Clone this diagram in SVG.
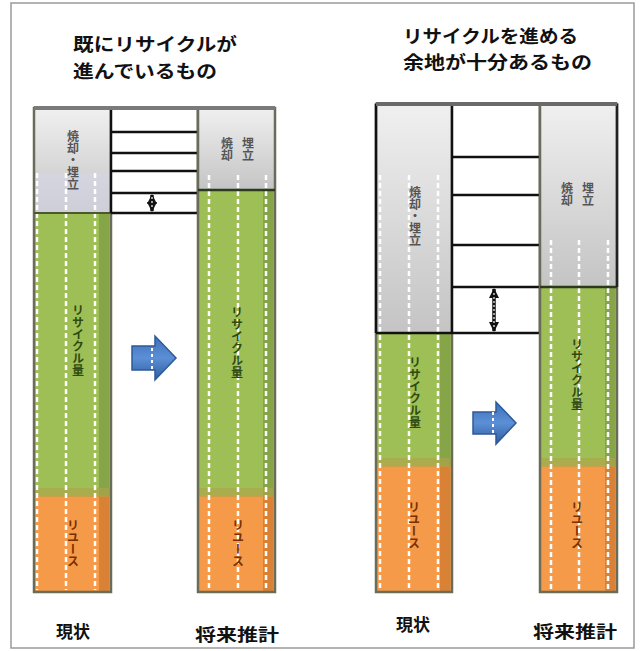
<svg xmlns="http://www.w3.org/2000/svg" width="644" height="651" viewBox="0 0 644 651">
<style>
.ttl{font-family:"Noto Sans CJK JP","Noto Sans",sans-serif;font-weight:700;font-size:18px;fill:#111}
.lbl{font-family:"Noto Sans CJK JP","Noto Sans",sans-serif;font-weight:700;font-size:17px;fill:#111;text-anchor:middle}
.vt{font-family:"Noto Sans CJK JP","Noto Sans",sans-serif;font-weight:700;font-size:12px;writing-mode:vertical-rl;text-anchor:middle}
.vg{fill:#555}
.vgr{fill:#2f4a10}
.vo{fill:#7a3000}
.gray{fill:url(#gGray)}
.green{fill:#9dbf55}
.orange{fill:#f59a48}
.shG{fill:#86a548}
.shO{fill:#d98236}
.edge{fill:none;stroke:#6b6b5a;stroke-width:2.5}
.blk{stroke:#111;stroke-width:2.5;fill:none}
.dash{stroke:#fff;stroke-width:2.5;stroke-dasharray:5 3;fill:none}
.mid{fill:#fff}
.arr{fill:url(#gBlue);stroke:#2e5a98;stroke-width:1.5}
</style>
<defs>
<linearGradient id="gGray" x1="0" y1="0" x2="0" y2="1">
<stop offset="0" stop-color="#f0f0f0"/>
<stop offset="1" stop-color="#c4c4c4"/>
</linearGradient>
<linearGradient id="gBlue" x1="0" y1="0" x2="0" y2="1">
<stop offset="0" stop-color="#3e6fb8"/>
<stop offset="0.5" stop-color="#5b8fd6"/>
<stop offset="1" stop-color="#2f5c9e"/>
</linearGradient>
<marker id="ah" viewBox="0 0 10 10" refX="9" refY="5" markerWidth="3" markerHeight="3" orient="auto-start-reverse">
<path d="M0,0 L10,5 L0,10 z" fill="#111"/>
</marker>
</defs>
<rect x="11" y="3" width="623" height="645" fill="#fff" stroke="#9a9a9a" stroke-width="1.5"/>

<g id="title-left">
<text class="ttl" x="73" y="51" textLength="164" lengthAdjust="spacingAndGlyphs">既にリサイクルが</text>
<text class="ttl" x="73" y="78" textLength="144" lengthAdjust="spacingAndGlyphs">進んでいるもの</text>
</g>
<g id="title-right">
<text class="ttl" x="403" y="43" textLength="175" lengthAdjust="spacingAndGlyphs">リサイクルを進める</text>
<text class="ttl" x="403" y="69" textLength="189" lengthAdjust="spacingAndGlyphs">余地が十分あるもの</text>
</g>

<!-- Left panel -->
<g id="lp-current">
<rect class="gray" x="34" y="108" width="77" height="105"/>
<rect x="34" y="173" width="77" height="40" fill="#d6d6e6" opacity="0.6"/>
<rect class="green" x="34" y="213" width="77" height="282"/>
<rect class="shG" x="99" y="213" width="10" height="282"/>
<rect class="orange" x="34" y="495" width="77" height="97"/>
<rect class="shO" x="99" y="495" width="10" height="97"/>
<rect x="34" y="488" width="77" height="9" fill="#b3a24a" opacity="0.6"/>
<line class="dash" x1="37" y1="173" x2="37" y2="590"/>
<line class="dash" x1="66" y1="173" x2="66" y2="590"/>
<line class="dash" x1="95" y1="173" x2="95" y2="590"/>
<rect class="edge" x="34" y="108" width="77" height="484"/>
<line x1="34" y1="213" x2="111" y2="213" stroke="#4a5a2a" stroke-width="2"/>
<text class="vt vg" x="73" y="160">焼却・埋立</text>
<text class="vt vgr" x="78" y="340">リサイクル量</text>
<text class="vt vo" x="73" y="543">リユース</text>
</g>
<g id="lp-gap">
<rect class="mid" x="111" y="108" width="87" height="105"/>
<line class="blk" x1="111" y1="132" x2="198" y2="132"/>
<line class="blk" x1="111" y1="153" x2="198" y2="153"/>
<line class="blk" x1="111" y1="171" x2="198" y2="171"/>
<line class="blk" x1="111" y1="193" x2="198" y2="193"/>
<line class="blk" x1="111" y1="213" x2="198" y2="213"/>
<line class="blk" x1="111" y1="108" x2="111" y2="213"/>
<line class="blk" x1="198" y1="108" x2="198" y2="213"/>
</g>
<g id="lp-future">
<rect class="gray" x="198" y="108" width="77" height="82"/>
<rect class="green" x="198" y="190" width="77" height="305"/>
<rect class="shG" x="263" y="190" width="10" height="305"/>
<rect class="orange" x="198" y="495" width="77" height="97"/>
<rect class="shO" x="263" y="495" width="10" height="97"/>
<rect x="198" y="488" width="77" height="9" fill="#b3a24a" opacity="0.6"/>
<line class="dash" x1="209" y1="175" x2="209" y2="590"/>
<line class="dash" x1="238" y1="175" x2="238" y2="590"/>
<line class="dash" x1="266" y1="175" x2="266" y2="590"/>
<rect class="edge" x="198" y="108" width="77" height="484"/>
<line x1="198" y1="190" x2="275" y2="190" stroke="#2a3a1a" stroke-width="2.5"/>
<text class="vt vg" x="227" y="149">焼却</text>
<text class="vt vg" x="248" y="149">埋立</text>
<text class="vt vgr" x="237" y="342">リサイクル量</text>
<text class="vt vo" x="238" y="543">リユース</text>
</g>
<line x1="34" y1="108" x2="275" y2="108" stroke="#7a7a7a" stroke-width="4"/>

<!-- Right panel -->
<g id="rp-current">
<rect class="gray" x="376" y="104" width="76" height="229"/>
<rect class="green" x="376" y="333" width="76" height="132"/>
<rect class="shG" x="440" y="333" width="10" height="132"/>
<rect class="orange" x="376" y="465" width="76" height="127"/>
<rect class="shO" x="440" y="465" width="10" height="127"/>
<rect x="376" y="458" width="76" height="9" fill="#b3a24a" opacity="0.6"/>
<line class="dash" x1="380" y1="175" x2="380" y2="590"/>
<line class="dash" x1="409" y1="175" x2="409" y2="590"/>
<line class="dash" x1="438" y1="175" x2="438" y2="590"/>
<rect class="edge" x="376" y="104" width="76" height="488"/>
<text class="vt vg" x="415" y="216">焼却・埋立</text>
<text class="vt vgr" x="415" y="392">リサイクル量</text>
<text class="vt vo" x="414" y="525">リユース</text>
</g>
<g id="rp-gap">
<rect class="mid" x="452" y="104" width="88" height="229"/>
<line class="blk" x1="452" y1="157" x2="540" y2="157"/>
<line class="blk" x1="452" y1="195" x2="540" y2="195"/>
<line class="blk" x1="452" y1="245" x2="540" y2="245"/>
<line class="blk" x1="452" y1="287" x2="540" y2="287"/>
<line class="blk" x1="376" y1="333" x2="540" y2="333"/>
<line class="blk" x1="452" y1="104" x2="452" y2="333"/>
<line class="blk" x1="540" y1="104" x2="540" y2="333"/>
<line class="blk" x1="376" y1="104" x2="376" y2="333"/>
</g>
<g id="rp-future">
<rect class="gray" x="540" y="104" width="77" height="183"/>
<rect class="green" x="540" y="287" width="77" height="178"/>
<rect class="shG" x="605" y="287" width="10" height="178"/>
<rect class="orange" x="540" y="465" width="77" height="127"/>
<rect class="shO" x="605" y="465" width="10" height="127"/>
<rect x="540" y="458" width="77" height="9" fill="#b3a24a" opacity="0.6"/>
<line class="dash" x1="551" y1="240" x2="551" y2="590"/>
<line class="dash" x1="579" y1="240" x2="579" y2="590"/>
<line class="dash" x1="608" y1="240" x2="608" y2="590"/>
<rect class="edge" x="540" y="104" width="77" height="488"/>
<line x1="540" y1="287" x2="617" y2="287" stroke="#2a3a1a" stroke-width="2.5"/>
<line x1="617" y1="104" x2="617" y2="287" stroke="#222" stroke-width="2.5"/>
<text class="vt vg" x="567" y="194">焼却</text>
<text class="vt vg" x="588" y="194">埋立</text>
<text class="vt vgr" x="577" y="374">リサイクル量</text>
<text class="vt vo" x="577" y="525">リユース</text>
</g>
<line x1="376" y1="104" x2="617" y2="104" stroke="#6a6a6a" stroke-width="4"/>

<g id="connectors">
<line x1="152" y1="195" x2="152" y2="211" stroke="#111" stroke-width="3.5" marker-start="url(#ah)" marker-end="url(#ah)"/>
<line x1="152" y1="197" x2="152" y2="209" stroke="#fff" stroke-width="1.2" stroke-dasharray="2 2"/>
<line x1="494" y1="289" x2="494" y2="331" stroke="#111" stroke-width="3.5" marker-start="url(#ah)" marker-end="url(#ah)"/>
<line x1="494" y1="293" x2="494" y2="327" stroke="#fff" stroke-width="1.2" stroke-dasharray="2 2"/>
</g>

<g id="arrow-left">
<path class="arr" d="M132,346 L155,346 L155,336 L176,358 L155,380 L155,370 L132,370 Z"/>
<line x1="152" y1="336" x2="152" y2="382" stroke="#fff" stroke-width="2" stroke-dasharray="3 3"/>
</g>
<g id="arrow-right">
<path class="arr" d="M473,412 L496,412 L496,402 L516,423 L496,444 L496,434 L473,434 Z"/>
<line x1="493" y1="400" x2="493" y2="446" stroke="#fff" stroke-width="2" stroke-dasharray="3 3"/>
</g>

<g id="labels">
<text class="lbl" x="73" y="638">現状</text>
<text class="lbl" x="237" y="641" textLength="84" lengthAdjust="spacingAndGlyphs">将来推計</text>
<text class="lbl" x="413" y="631">現状</text>
<text class="lbl" x="575" y="638" textLength="84" lengthAdjust="spacingAndGlyphs">将来推計</text>
</g>
</svg>
